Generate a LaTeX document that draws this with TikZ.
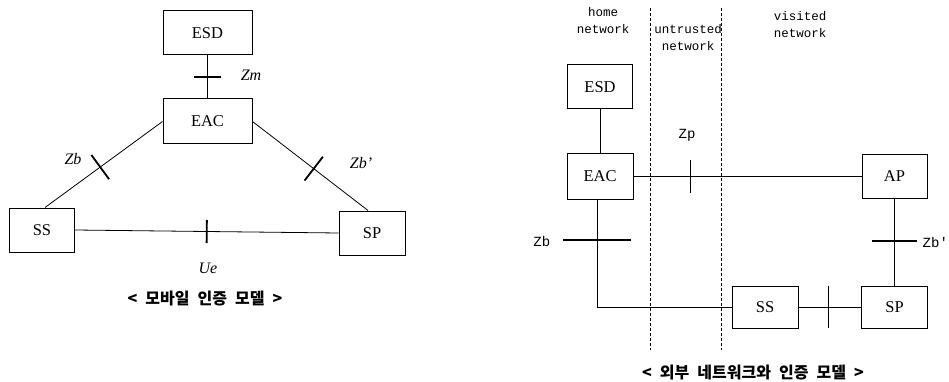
\documentclass[tikz,border=0pt]{standalone}
\usepackage{fontspec}
\setmainfont{Liberation Serif}
\setmonofont{Liberation Mono}
\newfontfamily\kofont{Noto Sans CJK KR}[WordSpace=2.2]
\usepackage{tikz}
\usetikzlibrary{
	calc,
	positioning
}

\tikzset{
	unit/.style={draw, line width=1pt, inner sep=0pt, font=\fontsize{16.5}{16.5}\selectfont},
	tickmark/.style={minimum height=#1, minimum width=0pt, inner sep=0pt, outer sep=0pt, sloped,
		append after command={(\tikzlastnode.north) edge[line width=1.8pt] (\tikzlastnode.south)}},
	zlab/.style={font=\fontsize{16}{16}\selectfont\itshape},
	rlab/.style={font=\fontsize{14}{14}\selectfont\ttfamily},
	netlab/.style={align=center, font=\fontsize{12.5}{17}\selectfont\ttfamily},
	caption/.style={font=\kofont\bfseries\fontsize{16}{16}\selectfont}
}

\begin{document}
\begin{tikzpicture}[x=1pt, y=-1pt, line width=0.8pt]
		\useasboundingbox (0,0) rectangle (949,382);
		% mobile model
		\node[unit, minimum width=89pt, minimum height=44pt] (esdL) at (207.5,33) {ESD};
		\node[unit, minimum width=89pt, minimum height=45pt] (eacL) at (207.5,121.5) {EAC};
		\node[unit, minimum width=65pt, minimum height=44pt] (ssL) at (42,230) {SS};
		\node[unit, minimum width=66pt, minimum height=44pt] (spL) at (372,233) {SP};
		\draw (esdL) -- node[tickmark=27pt] {} (eacL);
		\draw (eacL.west) -- node[pos=.53, tickmark=30pt] {} ($(ssL.north)+(3,0)$);
		\draw (eacL.east) -- node[pos=.53, tickmark=30pt] {} ($(spL.north)+(-4,0)$);
		\draw (ssL.east) -- node[tickmark=23pt] {} (spL.west);
		\node[zlab] at (251,75) {Zm};
		\node[zlab] at (73,159) {Zb};
		\node[zlab] at (361,163) {Zb’};
		\node[zlab] at (208,268) {Ue};
		\node[caption] at (205,299) {< 모바일 인증 모델 >};
		% external network model
		\draw[densely dashed] (650,8) -- (650,350);
		\draw[densely dashed] (721,8) -- (721,350);
		\node[netlab] at (603,21) {home\\network};
		\node[netlab] at (688,38) {untrusted\\network};
		\node[netlab] at (800,25) {visited\\network};
		\node[unit, minimum width=65pt, minimum height=44pt] (esdR) at (600,87) {ESD};
		\node[unit, minimum width=66pt, minimum height=45pt] (eacR) at (600,176.5) {EAC};
		\node[unit, minimum width=65pt, minimum height=44pt] (apR) at (894.5,176.5) {AP};
		\node[unit, minimum width=66pt, minimum height=42pt] (ssR) at (765,307) {SS};
		\node[unit, minimum width=66pt, minimum height=42pt] (spR) at (894.5,307) {SP};
		\draw (esdR) -- (eacR);
		\draw (eacR) -- node[pos=.25, tickmark=32pt] {} (apR);
		\draw ($(eacR.south)+(-3,0)$) |- node[pos=.19, tickmark=68pt] {} (ssR.west);
		\draw (apR) -- node[pos=.49, tickmark=45pt] {} (spR);
		\draw (ssR) -- node[pos=.48, tickmark=42pt] {} (spR);
		\node[rlab] at (687,135) {Zp};
		\node[rlab, anchor=east] at (554,241) {Zb};
		\node[rlab, anchor=west] at (919,242) {Zb'};
		\node[caption] at (753,373) {< 외부 네트워크와 인증 모델 >};
	\end{tikzpicture}
\end{document}
